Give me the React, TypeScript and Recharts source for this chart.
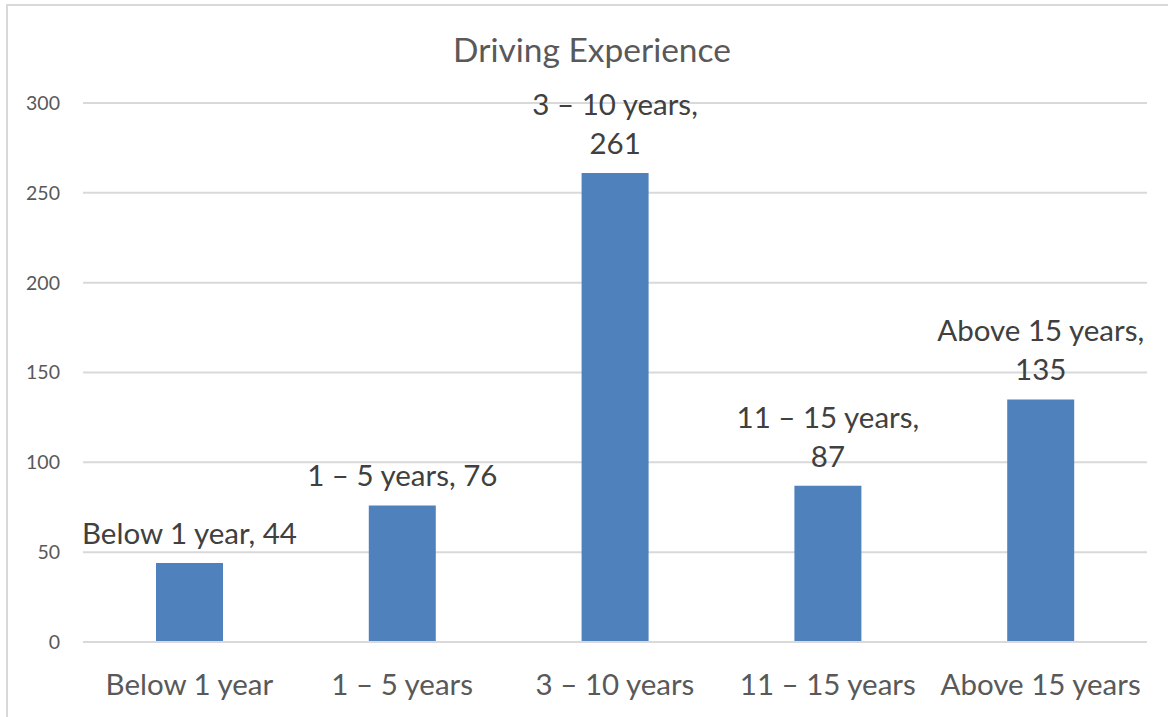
import React from "react";
import { BarChart, Bar, XAxis, YAxis, CartesianGrid, LabelList } from "recharts";

const categories = ["Below 1 year", "1 – 5 years", "3 – 10 years", "11 – 15 years", "Above 15 years"];
const counts = [44, 76, 261, 87, 135];
const wrapLabel = [false, false, true, true, true];
const yTicks = [0, 50, 100, 150, 200, 250, 300];

const data = categories.map((c, i) => ({ name: c, value: counts[i], wrap: wrapLabel[i] }));

const FONT = "Lato, 'Open Sans', sans-serif";

const renderLabel = (props: any) => {
  const { x, y, width, index, value } = props;
  const cx = x + width / 2;
  const name = categories[index];
  const base = y - 19;
  const style = { fontFamily: FONT, fontSize: 29.5, fill: "#404040" };
  if (wrapLabel[index]) {
    return (
      <g>
        <text x={cx} y={base - 39} textAnchor="middle" style={style}>{name + ","}</text>
        <text x={cx} y={base} textAnchor="middle" style={style}>{String(value)}</text>
      </g>
    );
  }
  return (
    <text x={cx} y={base} textAnchor="middle" style={style}>{name + ", " + value}</text>
  );
};

export default function App() {
  return (
    <div style={{ position: "fixed", left: 0, top: 0, width: 1168, height: 717, overflow: "hidden", background: "#fff" }}>
      <div style={{ position: "absolute", left: 6, top: 4, width: 1300, height: 900, border: "2px solid #d9d9d9", boxSizing: "border-box" }} />
      <div style={{ position: "absolute", left: 392, top: 29, width: 400, textAlign: "center", fontFamily: FONT, fontSize: 33.5, color: "#595959", lineHeight: "40px" }}>
        Driving Experience
      </div>
      <div style={{ position: "absolute", left: 0, top: 0 }}>
        <BarChart width={1168} height={717} data={data} margin={{ top: 103, right: 21, bottom: 0, left: 0 }} barSize={67}>
          <CartesianGrid vertical={false} stroke="#d9d9d9" strokeWidth={2} />
          <XAxis
            dataKey="name"
            tickSize={0}
            tickMargin={32}
            axisLine={{ stroke: "#d9d9d9", strokeWidth: 2 }}
            tickLine={false}
            tick={{ fontFamily: FONT, fontSize: 29.5, fill: "#595959" }}
            interval={0}
            height={75}
          />
          <YAxis
            domain={[0, 300]}
            ticks={yTicks}
            width={83}
            tickSize={0}
            tickMargin={23}
            axisLine={false}
            tickLine={false}
            tick={{ fontFamily: FONT, fontSize: 19.5, fill: "#595959" }}
          />
          <Bar dataKey="value" fill="#4f81bd" isAnimationActive={false}>
            <LabelList dataKey="value" content={renderLabel} />
          </Bar>
        </BarChart>
      </div>
    </div>
  );
}
